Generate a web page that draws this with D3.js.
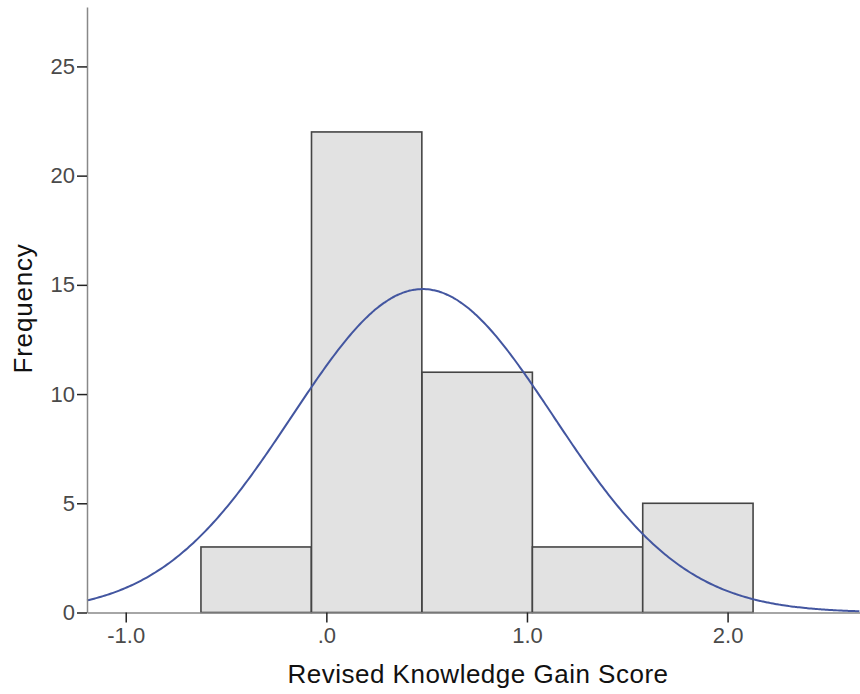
<!DOCTYPE html>
<html><head><meta charset="utf-8">
<script src="https://cdn.jsdelivr.net/npm/d3@7"></script>
<style>body{margin:0;background:#fff}svg{display:block}text{font-family:"Liberation Sans",Arial,sans-serif}</style>
</head><body>
<svg id="c" width="860" height="694"></svg>
<script>
const binStarts = [-0.625, -0.074, 0.477, 1.027, 1.577];
const binWidth = 0.55;
const frequencies = [3, 22, 11, 3, 5];
const xTicks = [-1, 0, 1, 2];
const xTickLabels = ["-1.0", ".0", "1.0", "2.0"];
const yTicks = [0, 5, 10, 15, 20, 25];
const curveMean = 0.48;
const curveSD = 0.652;
const N = 44;

(function(){
const svg = d3.select("#c");
const mL = 87, mR = 860, mT = 7, mB = 612.5;
const x = d3.scaleLinear().domain([-1.193, 2.66]).range([mL, mR]);
const y = d3.scaleLinear().domain([0, 27.72]).range([mB, mT]);

// bars
svg.append("g").selectAll("rect").data(frequencies).join("rect")
  .attr("x", (d,i) => x(binStarts[i]))
  .attr("width", (d,i) => x(binStarts[i] + binWidth) - x(binStarts[i]))
  .attr("y", d => y(d))
  .attr("height", d => y(0) - y(d))
  .attr("fill", "#e2e2e2").attr("stroke", "#454545").attr("stroke-width", 1.6);

// normal curve
const xs = d3.range(-1.193, 2.661, 0.01);
const dens = v => N * binWidth / (curveSD * Math.sqrt(2*Math.PI)) * Math.exp(-0.5 * Math.pow((v - curveMean)/curveSD, 2));
svg.append("path").datum(xs)
  .attr("d", d3.line().x(v => x(v)).y(v => y(dens(v))).curve(d3.curveBasis))
  .attr("fill", "none").attr("stroke", "#4356a0").attr("stroke-width", 2);

// axes
const xAxis = d3.axisBottom(x).tickValues(xTicks).tickFormat((d,i) => xTickLabels[i]).tickSize(10).tickSizeOuter(0);
const gx = svg.append("g").attr("transform", `translate(0,${mB})`).call(xAxis);
gx.select(".domain").attr("stroke", "#888").attr("stroke-width", 1.5);
gx.selectAll(".tick line").attr("stroke", "#222").attr("stroke-width", 1.5);
gx.selectAll(".tick text").attr("font-size", 22).attr("fill", "#4a4a4a").attr("y", 15).attr("dy", "0.71em")
  .style("font-family", '"Liberation Sans",Arial,sans-serif');

const yAxis = d3.axisLeft(y).tickValues(yTicks).tickSize(10).tickSizeOuter(0);
const gy = svg.append("g").attr("transform", `translate(${mL},0)`).call(yAxis);
gy.select(".domain").attr("stroke", "#888").attr("stroke-width", 1.5);
gy.selectAll(".tick line").attr("stroke", "#222").attr("stroke-width", 1.5);
gy.selectAll(".tick text").attr("font-size", 22).attr("fill", "#4a4a4a").attr("x", -12)
  .style("font-family", '"Liberation Sans",Arial,sans-serif');

// titles
svg.append("text").attr("x", 478).attr("y", 683).attr("text-anchor", "middle")
  .attr("font-size", 26).attr("letter-spacing", 0.5).attr("fill", "#111").text("Revised Knowledge Gain Score");
svg.append("text").attr("transform", "translate(31.5,308.5) rotate(-90)").attr("text-anchor", "middle")
  .attr("font-size", 26).attr("letter-spacing", 0.8).attr("fill", "#111").text("Frequency");
})();
</script>
</body></html>
